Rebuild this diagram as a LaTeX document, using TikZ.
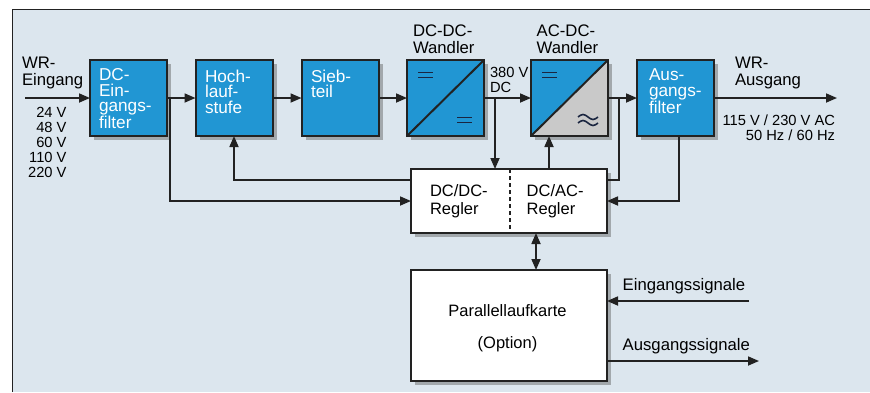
\documentclass[tikz,border=0pt]{standalone}
\usepackage{fontspec}
\setmainfont{Liberation Sans}
\usetikzlibrary{arrows.meta,calc,backgrounds}
\definecolor{bgc}{HTML}{DCE6EE}
\definecolor{bluec}{HTML}{2196D3}
\definecolor{greyc}{HTML}{C9C9C9}
\definecolor{linec}{HTML}{222222}
\definecolor{shadc}{HTML}{A2A8AC}
\definecolor{symc}{HTML}{1A2540}
\begin{document}
\begin{tikzpicture}[x=1pt,y=-1pt,
  every node/.style={inner sep=0pt, outer sep=0pt},
  blk/.style={draw=linec, line width=2pt, fill=bluec, minimum width=77pt, minimum height=76pt},
  wbox/.style={draw=linec, line width=2pt, fill=white, minimum width=196pt},
  arr/.style={draw=linec, line width=1.7pt, -{Triangle[length=11pt,width=9pt]}},
  arrtwo/.style={draw=linec, line width=1.7pt, {Triangle[length=11pt,width=9pt]}-{Triangle[length=11pt,width=9pt]}},
  ln/.style={draw=linec, line width=1.7pt},
  boxtxt/.style={text=white, align=left, anchor=base west, font=\fontsize{17.2}{15.5}\selectfont},
  lbl/.style={text=black, align=left, anchor=base west, font=\fontsize{16.7}{17.5}\selectfont},
  small/.style={text=black, font=\fontsize{14.7}{15}\selectfont},
  sym/.style={draw=symc, line width=1.6pt},
]
\useasboundingbox (0,0) rectangle (870,392);

% blocks
\node[blk] (ef) at (128.5,98) {};
\node[blk] (hl) at (234,98) {};
\node[blk] (sb) at (340,98) {};
\node[blk] (dd) at (445.5,98) {};
\node[blk, fill=greyc] (ad) at (569.5,98) {};
\node[blk] (af) at (675.5,98) {};
\node[wbox, minimum height=64pt] (rg) at (509,201) {};
\node[wbox, minimum height=111pt] (pk) at (509,325.5) {};

\begin{scope}[on background layer]
\fill[white] (0,0) rectangle (870,392);
\fill[bgc] (12,9) rectangle (870,392);
\draw[linec, line width=1pt] (12,392) -- (12,9) -- (870,9);
\foreach \b in {ef,hl,sb,dd,ad,af,rg,pk}
  \fill[shadc] ($(\b.south west)+(4,4)$) rectangle ($(\b.north east)+(4,4)$);
\end{scope}

% converter details
\fill[bluec] (ad.south west) -- (ad.north west) -- (ad.north east) -- cycle;
\draw[linec, line width=2pt] (ad.south west) rectangle (ad.north east);
\draw[linec, line width=2pt] (dd.south west) -- (dd.north east);
\draw[linec, line width=2pt] (ad.south west) -- (ad.north east);
\draw[sym] (418,72.5) -- (433,72.5) (418,77.5) -- (433,77.5);
\draw[sym] (457,117.5) -- (472,117.5) (457,122.5) -- (472,122.5);
\draw[sym] (542,72.5) -- (557,72.5) (542,77.5) -- (557,77.5);
\draw[sym] (578,117) sin (583,114.5) cos (588,117) sin (593,119.5) cos (598,117);
\draw[sym] (578,123) sin (583,120.5) cos (588,123) sin (593,125.5) cos (598,123);
\draw[linec, line width=1.2pt, dash pattern=on 4pt off 3pt] (rg.north west) ++(99,0) coordinate (dv1) -- (dv1 |- rg.south);

% block texts (anchor = baseline of last line)
\node[boxtxt] (eft) at (99,128.8) {DC-\\Ein-\\gangs-\\filter};
\node[boxtxt] (hlt) at (205,113.3) {Hoch-\\lauf-\\stufe};
\node[boxtxt] (sbt) at (311,97.8) {Sieb-\\teil};
\node[boxtxt] (aft) at (649,113.3) {Aus-\\gangs-\\filter};
\node[lbl, font=\fontsize{16.5}{17.5}\selectfont] (rgt1) at (430,214.2) {DC/DC-\\Regler};
\node[lbl, font=\fontsize{16.5}{17.5}\selectfont] (rgt2) at (526.7,214.2) {DC/AC-\\Regler};
\node[lbl, anchor=base, align=center, font=\fontsize{16.5}{32}\selectfont] (pkt) at (507.5,348) {Parallellaufkarte\\(Option)};

% labels
\node[lbl] (win) at (22,85.5) {WR-\\Eingang};
\node[small, align=right, anchor=base east] (volt) at (66.5,177) {24 V\\48 V\\60 V\\110 V\\220 V};
\node[lbl, font=\fontsize{16.7}{17}\selectfont] (ddl) at (413,53) {DC-DC-\\Wandler};
\node[lbl, font=\fontsize{16.7}{17}\selectfont] (adl) at (536.7,53) {AC-DC-\\Wandler};
\node[small, align=left, anchor=base west] (v380) at (490,92) {380 V\\DC};
\node[lbl] (wout) at (735,85.5) {WR-\\Ausgang};
\node[small, align=right, anchor=base east] (vout) at (835,140) {115 V / 230 V AC\\50 Hz / 60 Hz};
\node[lbl] (eins) at (622.7,290) {Eingangssignale};
\node[lbl] (auss) at (622.7,350.7) {Ausgangssignale};

% connectors
\coordinate (inS) at (25,98);
\coordinate (b1) at (170,98);
\coordinate (b2) at (495,98);
\coordinate (b3) at (619,98);
\coordinate (outE) at (837,98);
\coordinate (es) at (749,301);
\coordinate (as) at (759,361);
\draw[arr] (inS) -- (ef.west);
\draw[arr] (ef.east) -- (hl.west);
\draw[arr] (hl.east) -- (sb.west);
\draw[arr] (sb.east) -- (dd.west);
\draw[arr] (dd.east) -- (ad.west);
\draw[arr] (ad.east) -- (af.west);
\draw[arr] (af.east) -- (outE);
\draw[arr] (b1) |- (rg.west);
\draw[arr] ($(rg.north west)+(0,11)$) -| (hl.south);
\draw[arr] (b2) -- (b2 |- rg.north);
\draw[arr] ($(rg.north east)+(-58,0)$) coordinate (up1) -- (up1 |- ad.south);
\draw[ln] (b3) |- ($(rg.north east)+(0,11)$);
\draw[arr] ($(af.south)+(3.5,0)$) |- (rg.east);
\draw[arrtwo] ($(rg.south west)+(125,0)$) coordinate (bi1) -- (bi1 |- pk.north);
\draw[arr] (es) -- (es -| pk.east);
\draw[arr] (as -| pk.east) -- (as);
\end{tikzpicture}
\end{document}
